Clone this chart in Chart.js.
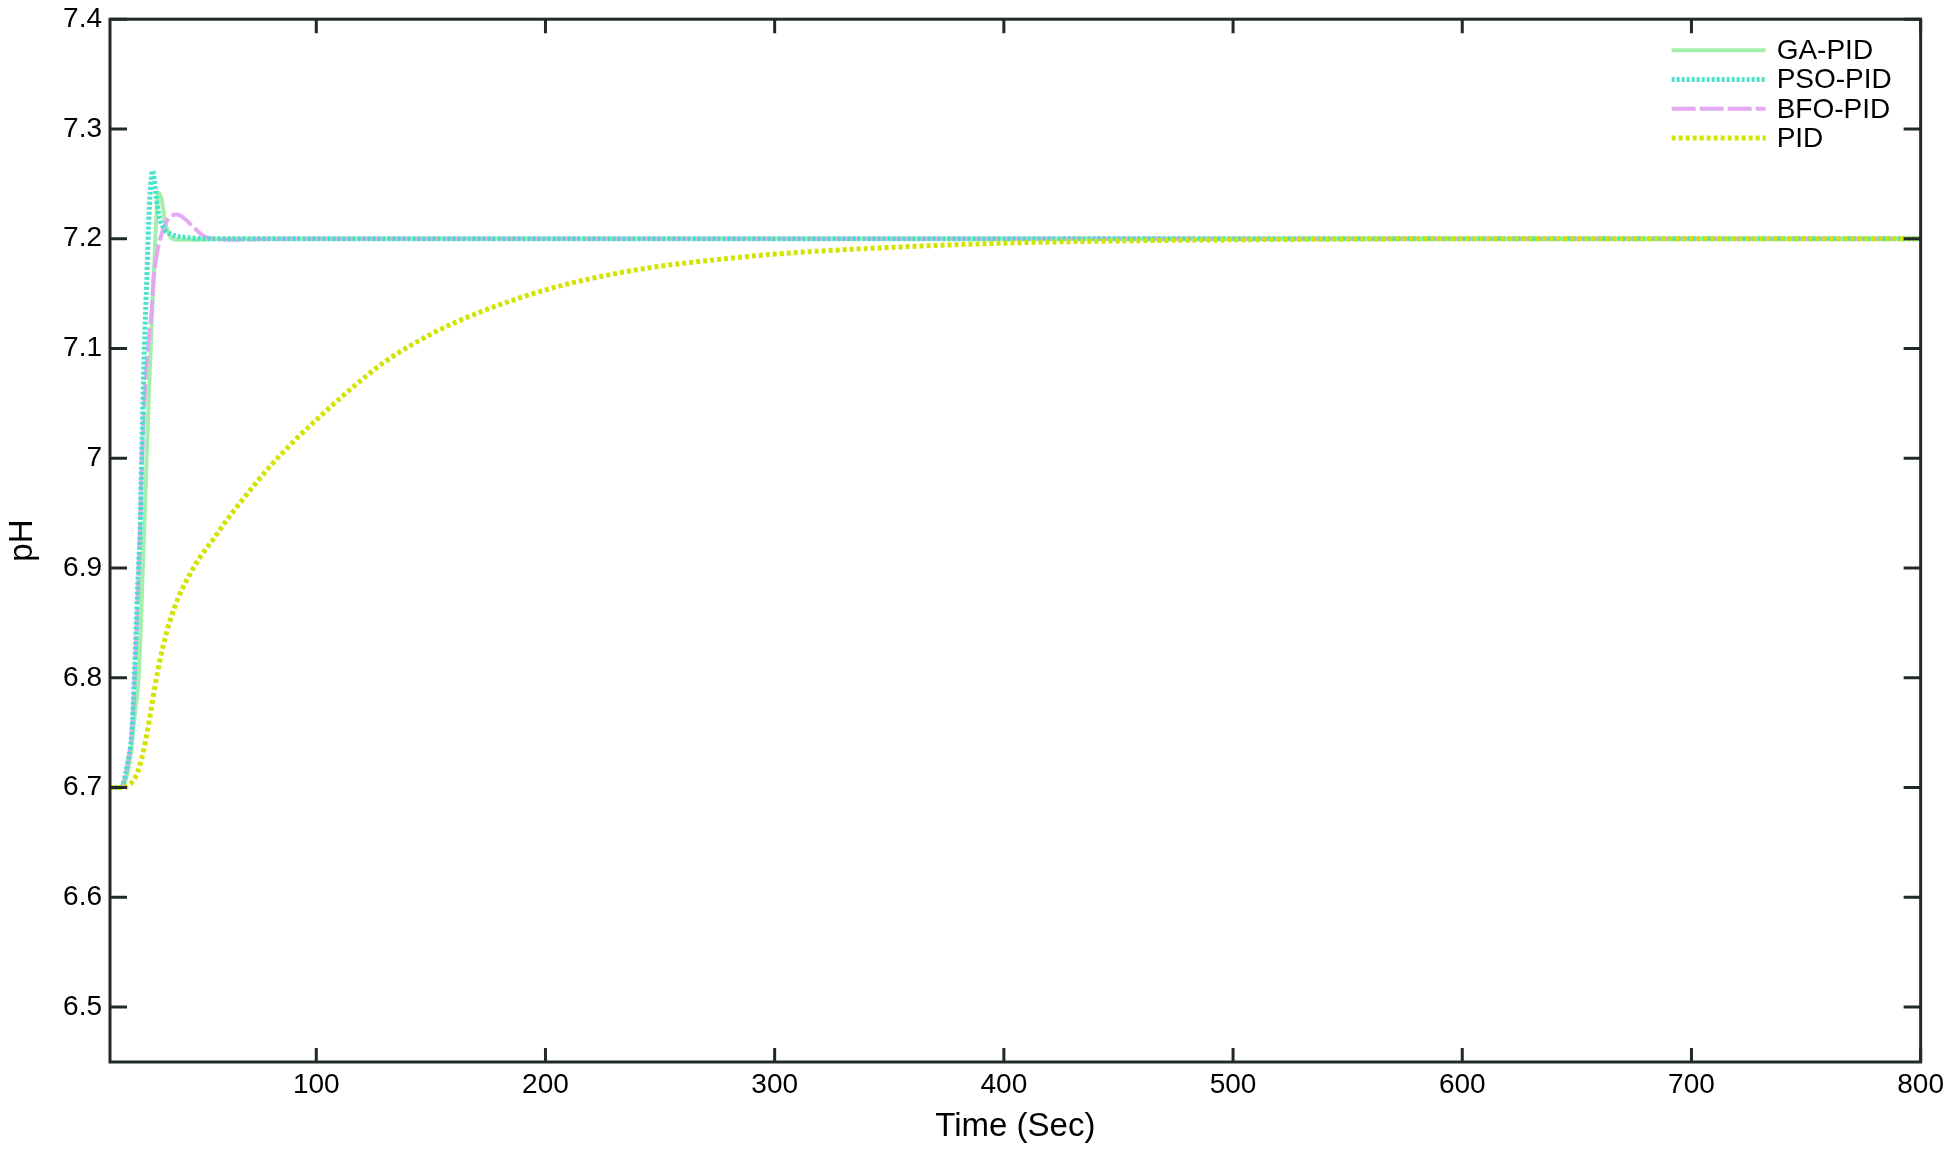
<!DOCTYPE html>
<html>
<head>
<meta charset="utf-8">
<script src="https://cdn.jsdelivr.net/npm/chart.js@4.4.0/dist/chart.umd.min.js"></script>
<style>
  html, body { margin: 0; padding: 0; background: #fff; }
</style>
</head>
<body>
<canvas id="chart" width="1950" height="1151"></canvas>
<script>
// values (time in sec, pH)
var gaTime   = [10, 14, 16, 17.5, 19, 21, 22.5, 24, 25.5, 27, 28.5, 30, 31.1, 32.5, 34, 36, 39, 45, 60, 800];
var gaPH     = [6.7, 6.7, 6.703, 6.712, 6.73, 6.77, 6.8, 6.88, 6.97, 7.06, 7.14, 7.21, 7.242, 7.236, 7.216, 7.203, 7.199, 7.199, 7.2, 7.2];

var psoTime  = [10, 14, 16, 17.5, 19.5, 20.6, 22.4, 23.1, 23.8, 25, 26, 27.2, 28.6, 29.8, 31.1, 33.3, 36.9, 44, 55, 800];
var psoPH    = [6.7, 6.7, 6.705, 6.72, 6.75, 6.8, 6.9, 6.93, 7.0, 7.1, 7.16, 7.23, 7.262, 7.245, 7.224, 7.21, 7.204, 7.201, 7.2, 7.2];

var bfoTime  = [10, 14, 16, 17.5, 19.5, 20.8, 22.6, 24, 25.5, 27, 28.2, 28.9, 30, 31.1, 34, 36.9, 39.2, 42.7, 47.1, 51.4, 57.2, 65, 75, 90, 800];
var bfoPH    = [6.7, 6.7, 6.705, 6.72, 6.75, 6.8, 6.9, 7.0, 7.07, 7.11, 7.136, 7.16, 7.18, 7.193, 7.213, 7.221, 7.222, 7.218, 7.209, 7.202, 7.1995, 7.199, 7.1995, 7.2, 7.2];

var pidTime  = [10, 14, 18, 20, 22, 24, 26, 28, 30, 32, 34, 36, 40, 45, 50, 55, 60, 70, 80, 90, 100, 115, 130, 150, 170, 190, 210, 230, 250, 275, 300, 330, 360, 400, 450, 500, 600, 700, 800];
var pidPH    = [6.7, 6.7, 6.702, 6.706, 6.714, 6.728, 6.748, 6.772, 6.797, 6.818, 6.836, 6.851, 6.874, 6.895, 6.912, 6.926, 6.941, 6.968, 6.993, 7.015, 7.035, 7.063, 7.088, 7.113, 7.132, 7.147, 7.159, 7.168, 7.175, 7.181, 7.186, 7.19, 7.193, 7.196, 7.198, 7.199, 7.2, 7.2, 7.2];

var xTicks = [100, 200, 300, 400, 500, 600, 700, 800];
var yTicks = [6.5, 6.6, 6.7, 6.8, 6.9, 7.0, 7.1, 7.2, 7.3, 7.4];
var yTickLabels = ['6.5', '6.6', '6.7', '6.8', '6.9', '7', '7.1', '7.2', '7.3', '7.4'];

function pts(t, v) {
    return t.map(function (x, i) { return { x: x, y: v[i] }; });
}

var axisColor = '#222a28';
var fontFamily = '"Liberation Sans", Arial, sans-serif';
var legendOrder = [0, 1, 2, 3];

// box round the plot with inward ticks on all four sides, plus the legend
var frame = {
    id: 'frame',
    afterDatasetsDraw: function (chart) {
        var c = chart.ctx, a = chart.chartArea;
        var xs = chart.scales.x, ys = chart.scales.y;
        c.save();
        c.strokeStyle = axisColor;
        c.lineWidth = 3;
        c.strokeRect(a.left, a.top, a.right - a.left, a.bottom - a.top);
        c.beginPath();
        xTicks.forEach(function (v) {
            var px = xs.getPixelForValue(v);
            c.moveTo(px, a.bottom); c.lineTo(px, a.bottom - 14);
            c.moveTo(px, a.top); c.lineTo(px, a.top + 14);
        });
        yTicks.forEach(function (v) {
            var py = ys.getPixelForValue(v);
            c.moveTo(a.left, py); c.lineTo(a.left + 17, py);
            c.moveTo(a.right, py); c.lineTo(a.right - 17, py);
        });
        c.stroke();

        // legend
        c.font = '28px ' + fontFamily;
        c.textBaseline = 'middle';
        c.fillStyle = '#000';
        legendOrder.forEach(function (idx, i) {
            var ds = chart.data.datasets[idx];
            var y = a.top + 31 + i * 29.3;
            var x0 = a.right - 249, x1 = a.right - 155;
            c.strokeStyle = ds.borderColor;
            c.lineWidth = ds.borderWidth;
            c.setLineDash(ds.borderDash || []);
            c.beginPath();
            c.moveTo(x0, y); c.lineTo(x1, y);
            c.stroke();
            c.setLineDash([]);
            c.fillText(ds.label, a.right - 144, y + 1);
        });
        c.restore();
    }
};

var ctx = document.getElementById('chart');
var myChart = new Chart(ctx, {
    type: 'line',
    data: {
        datasets: [{
            label: 'GA-PID',
            data: pts(gaTime, gaPH),
            borderColor: 'rgba(160,238,168,0.95)',
            borderWidth: 4,
            order: 3
        }, {
            label: 'PSO-PID',
            data: pts(psoTime, psoPH),
            borderColor: 'rgba(64,226,200,0.95)',
            borderWidth: 5,
            borderDash: [3, 2],
            order: 1
        }, {
            label: 'BFO-PID',
            data: pts(bfoTime, bfoPH),
            borderColor: 'rgba(228,164,240,0.95)',
            borderWidth: 4,
            borderDash: [24, 4],
            order: 2
        }, {
            label: 'PID',
            data: pts(pidTime, pidPH),
            borderColor: '#d2e400',
            borderWidth: 5,
            borderDash: [4, 3],
            order: 0
        }]
    },
    options: {
        responsive: false,
        animation: false,
        devicePixelRatio: 1,
        layout: { padding: { left: 0, right: 25, top: 16, bottom: 0 } },
        elements: {
            point: { radius: 0 },
            line: { cubicInterpolationMode: 'monotone', fill: false }
        },
        scales: {
            x: {
                type: 'linear',
                min: 10,
                max: 800,
                grid: { display: false, drawTicks: false },
                border: { display: false },
                afterBuildTicks: function (s) { s.ticks = xTicks.map(function (v) { return { value: v }; }); },
                afterFit: function (s) { s.height = 89; },
                ticks: {
                    padding: 6,
                    maxRotation: 0,
                    color: '#000',
                    font: { family: fontFamily, size: 28 }
                },
                title: {
                    display: true,
                    text: 'Time (Sec)',
                    color: '#000',
                    font: { family: fontFamily, size: 33 },
                    padding: { top: 0, bottom: 4 }
                }
            },
            y: {
                type: 'linear',
                min: 6.45,
                max: 7.4,
                grid: { display: false, drawTicks: false },
                border: { display: false },
                afterBuildTicks: function (s) { s.ticks = yTicks.map(function (v) { return { value: v }; }); },
                afterFit: function (s) { s.width = 110; },
                ticks: {
                    padding: 8,
                    color: '#000',
                    font: { family: fontFamily, size: 28, lineHeight: 0.8 },
                    callback: function (v, i) { return yTickLabels[i]; }
                },
                title: {
                    display: true,
                    text: 'pH',
                    color: '#000',
                    font: { family: fontFamily, size: 33 },
                    padding: { top: 3, bottom: 0 }
                }
            }
        },
        plugins: {
            legend: { display: false },
            tooltip: { enabled: false }
        }
    },
    plugins: [frame]
});
</script>
</body>
</html>
